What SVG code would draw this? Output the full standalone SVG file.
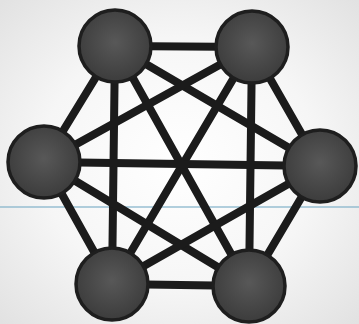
<svg xmlns="http://www.w3.org/2000/svg" width="359" height="324" viewBox="0 0 359 324">
<style>
.edge{stroke:#1b1b1b;stroke-width:8;stroke-linecap:round;fill:none}
.node{fill:url(#ng);stroke:#1e1e1e;stroke-width:3.5}
</style>
<defs>
<radialGradient id="bg" cx="50%" cy="50%" r="70%">
<stop offset="0" stop-color="#ffffff"/>
<stop offset="0.55" stop-color="#f6f6f6"/>
<stop offset="1" stop-color="#e2e2e2"/>
</radialGradient>
<radialGradient id="ng" cx="50%" cy="45%" r="55%">
<stop offset="0" stop-color="#585858"/>
<stop offset="1" stop-color="#3c3c3c"/>
</radialGradient>
</defs>
<rect width="359" height="324" fill="url(#bg)"/>
<line x1="0" y1="207" x2="359" y2="207" stroke="#7fb0c8" stroke-width="1.5" opacity="0.8"/>
<g id="connectors">
<line class="edge" x1="115" y1="46" x2="252" y2="47"/>
<line class="edge" x1="115" y1="46" x2="44" y2="162"/>
<line class="edge" x1="115" y1="46" x2="320" y2="166"/>
<line class="edge" x1="115" y1="46" x2="112" y2="284"/>
<line class="edge" x1="115" y1="46" x2="249" y2="286"/>
<line class="edge" x1="252" y1="47" x2="44" y2="162"/>
<line class="edge" x1="252" y1="47" x2="320" y2="166"/>
<line class="edge" x1="252" y1="47" x2="112" y2="284"/>
<line class="edge" x1="252" y1="47" x2="249" y2="286"/>
<line class="edge" x1="44" y1="162" x2="320" y2="166"/>
<line class="edge" x1="44" y1="162" x2="112" y2="284"/>
<line class="edge" x1="44" y1="162" x2="249" y2="286"/>
<line class="edge" x1="320" y1="166" x2="112" y2="284"/>
<line class="edge" x1="320" y1="166" x2="249" y2="286"/>
<line class="edge" x1="112" y1="284" x2="249" y2="286"/>
</g>
<g id="n1"><circle class="node" cx="115" cy="46" r="36"/></g>
<g id="n2"><circle class="node" cx="252" cy="47" r="36"/></g>
<g id="n3"><circle class="node" cx="44" cy="162" r="36"/></g>
<g id="n4"><circle class="node" cx="320" cy="166" r="36"/></g>
<g id="n5"><circle class="node" cx="112" cy="284" r="36"/></g>
<g id="n6"><circle class="node" cx="249" cy="286" r="36"/></g>
</svg>
